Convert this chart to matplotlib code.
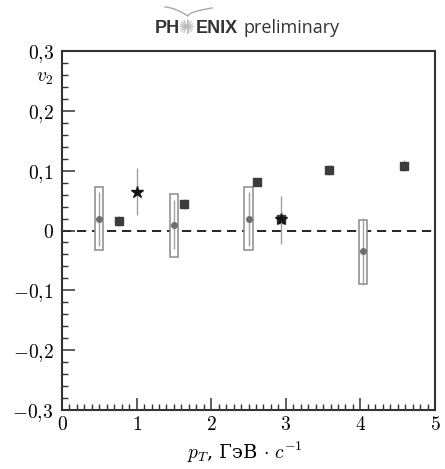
import numpy as np
import matplotlib
matplotlib.use("Agg")
import matplotlib.pyplot as plt
from matplotlib.patches import Rectangle
from matplotlib.ticker import MultipleLocator

plt.rcParams['mathtext.fontset'] = 'cm'
plt.rcParams['font.family'] = ['DejaVu Serif']

# circles with systematic boxes
circ_pt = [0.5, 1.5, 2.5, 4.03]
circ_v2 = [0.020, 0.009, 0.020, -0.035]
circ_err_lo = [0.046, 0.040, 0.046, 0.056]
circ_err_hi = [0.045, 0.042, 0.045, 0.056]
box_lo = [-0.033, -0.044, -0.033, -0.089]
box_hi = [0.072, 0.061, 0.072, 0.018]

# squares
sq_pt = [0.76, 1.63, 2.62, 2.93, 3.58, 4.59]
sq_v2 = [0.016, 0.044, 0.081, 0.019, 0.101, 0.108]
sq_err = [0.008, 0.008, 0.007, 0.007, 0.008, 0.009]

# stars
star_pt = [1.01, 2.93]
star_v2 = [0.064, 0.019]
star_err_lo = [0.038, 0.041]
star_err_hi = [0.040, 0.039]

fig = plt.figure(figsize=(4.45, 4.69), dpi=100)
ax = fig.add_axes([62/445, 1 - 410/469, 373/445, 359/469])

box_w = 0.11
for x, lo, hi in zip(circ_pt, box_lo, box_hi):
    ax.add_patch(Rectangle((x - box_w/2, lo), box_w, hi - lo, facecolor='white',
                           edgecolor='#8a8a8a', lw=1.1, zorder=2))
ax.errorbar(circ_pt, circ_v2, yerr=[circ_err_lo, circ_err_hi], fmt='o', ms=4,
            color='#6e6e6e', ecolor='#a0a0a0', elinewidth=1.0, capsize=0, zorder=3)
ax.errorbar(sq_pt, sq_v2, yerr=sq_err, fmt='s', ms=5.5, color='#3c3c3c',
            ecolor='#a0a0a0', elinewidth=1.0, capsize=0, zorder=4)
ax.errorbar(star_pt, star_v2, yerr=[star_err_lo, star_err_hi], fmt='*', ms=9,
            color='#151515', ecolor='#a0a0a0', elinewidth=1.0, capsize=0, zorder=5)

ax.axhline(0, color='black', lw=1.2, ls=(0, (5.5, 3.5)), zorder=1)

ax.set_xlim(0, 5)
ax.set_ylim(-0.3, 0.3)
ax.xaxis.set_minor_locator(MultipleLocator(0.1))
ax.yaxis.set_minor_locator(MultipleLocator(0.02))
ax.tick_params(which='both', direction='in', top=False, right=False, color='#333333')
ax.tick_params(which='major', length=9, width=1.1)
ax.tick_params(axis='y', which='major', pad=6)
ax.tick_params(axis='x', which='major', pad=4)
ax.tick_params(which='minor', length=4.5, width=1.0)

ax.set_xticks([0, 1, 2, 3, 4, 5])
ax.set_xticklabels([r'$%d$' % v for v in range(6)], fontsize=14)
yt = [-0.3, -0.2, -0.1, 0, 0.1, 0.2, 0.3]
ylabels = [r'$-0{,}3$', r'$-0{,}2$', r'$-0{,}1$', r'$0$', r'$0{,}1$', r'$0{,}2$', r'$0{,}3$']
ax.set_yticks(yt)
ax.set_yticklabels(ylabels, fontsize=14)

for s in ax.spines.values():
    s.set_linewidth(1.5)
    s.set_color('#333333')

fig.text(45/445, 1 - 78/469, r'$v_2$', fontsize=14, ha='center', va='center')
fig.text(245/445, 1 - 452/469, r'$p_T$, ГэВ $\cdot\ c^{-1}$', fontsize=14,
         ha='center', va='center')

# PHENIX preliminary logo
base = 1 - 33/469
fig.text(155/445, base, 'PH', fontsize=13, fontweight='bold', color='#333333',
         family='Liberation Sans', ha='left', va='baseline')
fig.text(238/445, base, 'ENIX', fontsize=13, fontweight='bold', color='#333333',
         family='Liberation Sans', ha='right', va='baseline')
fig.text(243/445, base, 'preliminary', fontsize=13, color='#333333',
         family='Open Sans', ha='left', va='baseline')
# starburst between H and E
cx, cy = 186.5, 26.5
for ang in np.linspace(0, np.pi, 8, endpoint=False):
    dx, dy = 6.5 * np.cos(ang), 6.5 * np.sin(ang)
    fig.add_artist(plt.Line2D([(cx - dx) / 445, (cx + dx) / 445],
                              [1 - (cy - dy) / 469, 1 - (cy + dy) / 469],
                              color='#b8b8b8', lw=0.8))
t = np.linspace(0, 1, 40)
lx = 165 + 23 * t
ly = 7 + 9 * t ** 1.6
rx = 188 + 24 * t
ry = 16 - 8 * np.sqrt(t)
fig.add_artist(plt.Line2D(np.r_[lx, rx] / 445, 1 - np.r_[ly, ry] / 469,
                          color='#a8a8a8', lw=1.0))

fig.savefig('out.png', dpi=100)
